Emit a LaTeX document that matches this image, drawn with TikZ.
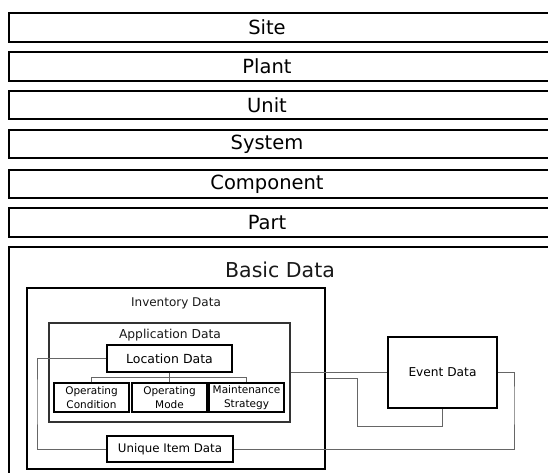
\documentclass[tikz,border=0pt]{standalone}
\usepackage{fontspec}
\setmainfont{DejaVu Sans}
\begin{document}
\begin{tikzpicture}[x=1pt,y=-1pt,
  barbox/.style={draw=black,line width=2pt},
  bartext/.style={inner sep=0pt,font=\fontsize{19.5}{22}\selectfont},
  bigbox/.style={draw=black,inner sep=0pt},
  conn/.style={draw=gray!80!black,line width=0.8pt},
  lbl/.style={inner sep=0pt,text=black!90}
]
\useasboundingbox (0,0) rectangle (548,472);
\clip (0,0) rectangle (548,472);
\fill[white] (0,0) rectangle (548,472);

% hierarchy bars
\draw[barbox] (9,13) rectangle (560,42);
\node[bartext] (site) at (267,27.5) {Site};
\draw[barbox] (9,52) rectangle (560,81);
\node[bartext] (plant) at (267,66.5) {Plant};
\draw[barbox] (9,91) rectangle (560,119);
\node[bartext] (unit) at (267,105) {Unit};
\draw[barbox] (9,130) rectangle (560,158);
\node[bartext] (system) at (267,144) {System};
\draw[barbox] (9,170) rectangle (560,198);
\node[bartext] (component) at (267,184) {Component};
\draw[barbox] (9,208) rectangle (560,237);
\node[bartext] (part) at (267,222.5) {Part};

% basic data frame
\node[bigbox,line width=2pt,minimum width=551pt,minimum height=243pt] (basic) at (284.5,368.5) {};
\node[lbl,font=\fontsize{20.5}{23}\selectfont] (basict) at (280,270) {Basic Data};

% inventory
\node[bigbox,line width=2.5pt,minimum width=298pt,minimum height=181pt] (inv) at (176,378.5) {};
\node[lbl,font=\fontsize{12}{14}\selectfont] (invt) at (176,303) {Inventory Data};

% application
\node[bigbox,draw=black!80,line width=1.2pt,minimum width=241pt,minimum height=99pt] (app) at (169.5,372.5) {};
\node[lbl,font=\fontsize{12.3}{14}\selectfont] (appt) at (170,335) {Application Data};

% location
\node[bigbox,line width=1.3pt,minimum width=125pt,minimum height=27pt,font=\fontsize{12.5}{14}\selectfont] (loc) at (169.5,358.5) {Location Data};

% small boxes
\tikzset{smallbox/.style={bigbox,line width=1.5pt,minimum width=75pt,minimum height=29pt,align=center,font=\fontsize{10.5}{13.5}\selectfont}}
\node[smallbox] (oc) at (91.5,397.5) {Operating\\Condition};
\node[smallbox] (om) at (169.5,397.5) {Operating\\Mode};
\node[smallbox] (ms) at (246.5,397.5) {Maintenance\\Strategy};

% unique item
\node[bigbox,line width=1.2pt,minimum width=126pt,minimum height=26pt,font=\fontsize{11.8}{14}\selectfont] (uniq) at (170,449) {Unique Item Data};

% event data
\node[bigbox,line width=2.5pt,minimum width=109pt,minimum height=71pt,font=\fontsize{12.2}{14}\selectfont] (event) at (442.5,372.5) {Event Data};

% tree connectors
\draw[conn] (loc.south) -- (om.north);
\draw[conn] (oc.north) -- ++(0,-5) -| (ms.north);

% loop connectors
\coordinate (lft) at (37,400);
\draw[conn] (loc.west) -| (lft) |- (uniq.west);
\coordinate (rgt) at (514,400);
\draw[conn] (uniq.east) -| (rgt) |- (event.east);
\draw[conn] (app.east) -- (event.west);
\coordinate (bot) at (357,426);
\draw[conn] (inv.east) -| (bot) -| (event.south);
\end{tikzpicture}
\end{document}
